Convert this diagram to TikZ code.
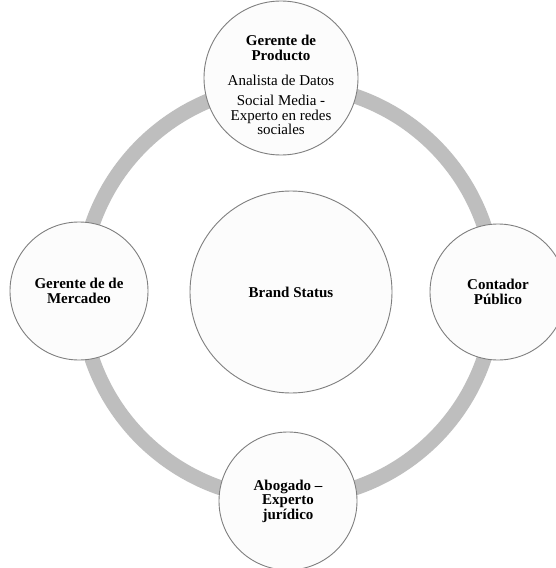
\documentclass[tikz,border=0pt]{standalone}
\usepackage{fontspec}
\setmainfont{Liberation Serif}
\definecolor{ringgray}{HTML}{BEBEBE}
\definecolor{edgegray}{HTML}{7F7F7F}
\definecolor{fillwhite}{HTML}{FCFCFC}
\tikzset{
  ringline/.style={draw=ringgray, line width=15bp},
  bubble/.style={circle, draw=edgegray, line width=0.9bp, fill=fillwhite, inner sep=0pt, align=center,
    font=\fontsize{15bp}{14.5bp}\selectfont},
  plaintext/.style={inner sep=0pt, align=center, font=\fontsize{15bp}{14.5bp}\selectfont},
}
\begin{document}
\begin{tikzpicture}[x=1bp,y=-1bp]
\useasboundingbox (0,0) rectangle (556,568);
\clip (0,0) rectangle (556,568);
\fill[white] (0,0) rectangle (556,568);
\coordinate (ringc) at (288,292);
\draw[ringline] (ringc) circle[radius=207bp];
\node[bubble, minimum size=202bp] (brand) at (291,292) {\bfseries Brand Status};
\node[bubble, minimum size=154bp] (prod) at (281,78) {};
\node[plaintext] (prodtext) at (281,85) {\bfseries Gerente de\\\bfseries Producto\\[11bp] Analista de Datos\\[5.5bp] Social Media -\\Experto en redes\\sociales};
\node[bubble, minimum size=138bp] (merc) at (79,291) {\bfseries Gerente de de\\\bfseries Mercadeo};
\node[bubble, minimum size=136bp] (cont) at (498,292) {\bfseries Contador\\\bfseries Público};
\node[bubble, minimum size=138bp] (abog) at (288,501) {\bfseries Abogado –\\\bfseries Experto\\\bfseries jurídico};
\end{tikzpicture}
\end{document}
